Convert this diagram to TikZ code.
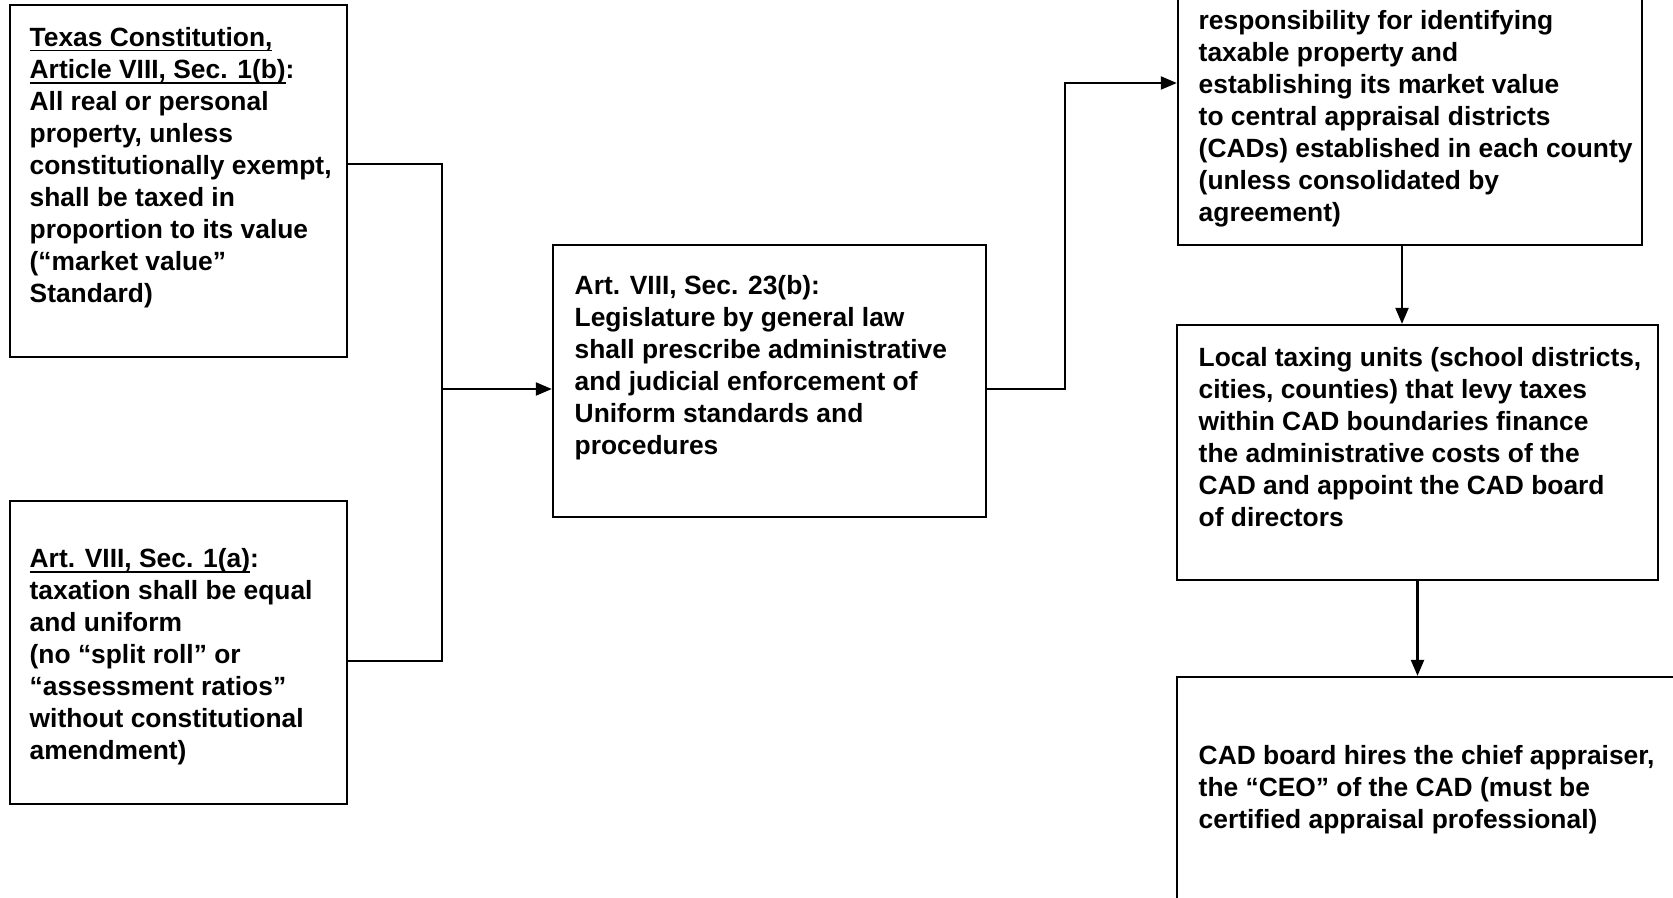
\documentclass[tikz,border=0pt]{standalone}
\usepackage{fontspec}
\setmainfont{Liberation Sans}
\usetikzlibrary{arrows.meta}

\newcommand{\uln}[1]{\setbox0\hbox{#1}\rlap{\rule[-1.5pt]{\wd0}{0.5pt}}\box0}

\tikzset{
  box/.style={draw,line width=0.6pt,inner sep=0pt},
  boxtext/.style={anchor=base west,inner sep=0pt,align=left,
    font=\bfseries\fontsize{7.5}{9.13}\selectfont},
  arr/.style={line width=0.6pt,-{Triangle[length=0.16cm,width=0.13cm]}},
  link/.style={line width=0.6pt}
}

\begin{document}
\begin{tikzpicture}[x=0.01cm,y=-0.01cm]
\useasboundingbox (0,0) rectangle (1673,898);

% Boxes
\node[box,minimum width=3.37cm,minimum height=3.52cm] (art1b) at (178.5,181) {};
\node[box,minimum width=3.37cm,minimum height=3.03cm] (art1a) at (178.5,652.5) {};
\node[box,minimum width=4.33cm,minimum height=2.72cm] (art23b) at (769.5,381) {};
\node[box,minimum width=4.64cm,minimum height=2.85cm] (cad) at (1410,102.5) {};
\node[box,minimum width=4.81cm,minimum height=2.55cm] (units) at (1417.5,452.5) {};
\node[box,minimum width=5.13cm,minimum height=2.43cm] (board) at (1433.5,798.5) {};

% Texts (placed at the baseline of their last line)
\node[boxtext] (art1b-txt) at (29,303) {\uln{Texas Constitution,}\\\uln{Article VIII, Sec. 1(b)}:\\All real or personal\\property, unless\\constitutionally exempt,\\shall be taxed in\\proportion to its value\\(“market value”\\Standard)};
\node[boxtext] (art1a-txt) at (29,760) {\uln{Art. VIII, Sec. 1(a)}:\\taxation shall be equal\\and uniform\\(no “split roll” or\\“assessment ratios”\\without constitutional\\amendment)};
\node[boxtext] (art23b-txt) at (574,455) {Art. VIII, Sec. 23(b):\\Legislature by general law\\shall prescribe administrative\\and judicial enforcement of\\Uniform standards and\\procedures};
\node[boxtext] (cad-txt) at (1198,222) {responsibility for identifying\\taxable property and\\establishing its market value\\to central appraisal districts\\(CADs) established in each county\\(unless consolidated by\\agreement)};
\node[boxtext] (units-txt) at (1198,527) {Local taxing units (school districts,\\cities, counties) that levy taxes\\within CAD boundaries finance\\the administrative costs of the\\CAD and appoint the CAD board\\of directors};
\node[boxtext] (board-txt) at (1198,829) {CAD board hires the chief appraiser,\\the “CEO” of the CAD (must be\\certified appraisal professional)};

% Connectors
\coordinate (jtop) at (442,164);
\coordinate (jbot) at (442,661);
\coordinate (jmid) at (442,389);
\coordinate (kup) at (1065,83);
\coordinate (kdown) at (1402,0);

\draw[link] (art1b.east |- jtop) -- (jtop) -- (jbot) -- (art1a.east |- jbot);
\draw[arr] (jmid) -- (art23b.west |- jmid);
\draw[arr] (art23b.east |- jmid) -| (kup) -- (cad.west |- kup);
\draw[arr] (cad.south -| kdown) -- (units.north -| kdown);
\draw[arr] (units.south) -- (board.north -| units.south);
\end{tikzpicture}
\end{document}
